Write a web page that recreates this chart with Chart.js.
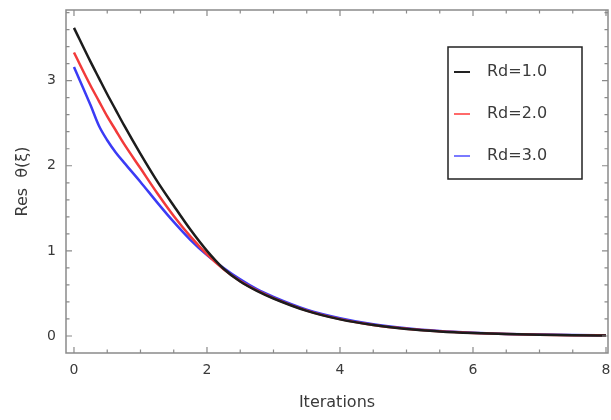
<!DOCTYPE html>
<html>
<head>
<meta charset="utf-8">
<script src="https://cdn.jsdelivr.net/npm/chart.js@4"></script>
<style>
  html, body { margin: 0; padding: 0; background: #fff; }
  #wrap { width: 611px; height: 420px; }
</style>
</head>
<body>
<div id="wrap"><canvas id="chart" width="611" height="420"></canvas></div>
<script>
// data
const iterations = [0, 0.25, 0.375, 0.5, 0.625, 0.75, 1, 1.25, 1.5, 1.75, 2, 2.25, 2.5, 2.75, 3, 3.5, 4, 4.5, 5, 5.5, 6, 6.5, 7, 7.5, 8];
const resRd1 = [3.62, 3.22, 3.03, 2.84, 2.66, 2.48, 2.14, 1.82, 1.53, 1.25, 1.0, 0.79, 0.64, 0.53, 0.44, 0.295, 0.195, 0.128, 0.083, 0.054, 0.035, 0.022, 0.014, 0.009, 0.006];
const resRd2 = [3.33, 2.94, 2.76, 2.58, 2.42, 2.26, 1.97, 1.68, 1.41, 1.17, 0.96, 0.785, 0.645, 0.535, 0.445, 0.298, 0.198, 0.13, 0.085, 0.055, 0.036, 0.023, 0.015, 0.01, 0.007];
const resRd3 = [3.16, 2.71, 2.47, 2.30, 2.16, 2.04, 1.81, 1.57, 1.34, 1.13, 0.95, 0.80, 0.665, 0.55, 0.46, 0.31, 0.21, 0.138, 0.09, 0.058, 0.038, 0.024, 0.016, 0.011, 0.008];
const seriesLabels = ['Rd=1.0', 'Rd=2.0', 'Rd=3.0'];
const xTicks = [0, 2, 4, 6, 8];
const yTicks = [0, 1, 2, 3];

const lineColors = ['#1c1c1c', '#f23a3a', '#3b3bf5'];
const legendColors = ['#222222', '#ff6a6a', '#7a7aff'];
const frameColor = '#8a8a8a';
const textColor = '#3a3a3a';
const fontFamily = '"DejaVu Sans", sans-serif';

function toPoints(ys) {
    return iterations.map((x, i) => ({ x: x, y: ys[i] }));
}

// frame with inward ticks on all four sides, Mathematica style
const frameTicks = {
    id: 'frameTicks',
    afterDraw(chart) {
        const ctx = chart.ctx;
        const a = chart.chartArea;
        const xs = chart.scales.x, ys = chart.scales.y;
        ctx.save();
        ctx.strokeStyle = frameColor;
        ctx.lineWidth = 1.5;
        ctx.strokeRect(a.left, a.top, a.right - a.left, a.bottom - a.top);
        ctx.lineWidth = 1.2;
        ctx.beginPath();
        for (let v = 0; v <= 8.001; v += 0.5) {
            const px = xs.getPixelForValue(v);
            const len = (Math.abs(v % 2) < 0.01) ? 6 : 3.5;
            ctx.moveTo(px, a.bottom); ctx.lineTo(px, a.bottom - len);
            ctx.moveTo(px, a.top); ctx.lineTo(px, a.top + len);
        }
        for (let v = 0; v <= 3.81; v += 0.2) {
            const py = ys.getPixelForValue(v);
            const major = Math.abs(v - Math.round(v)) < 0.01;
            const len = major ? 6 : 3.5;
            ctx.moveTo(a.left, py); ctx.lineTo(a.left + len, py);
            ctx.moveTo(a.right, py); ctx.lineTo(a.right - len, py);
        }
        ctx.stroke();

        // legend box
        const bx = 448, by = 47, bw = 134, bh = 132;
        ctx.strokeStyle = '#222';
        ctx.lineWidth = 1.5;
        ctx.strokeRect(bx, by, bw, bh);
        ctx.font = '16px ' + fontFamily;
        ctx.textBaseline = 'middle';
        ctx.fillStyle = textColor;
        chart.data.datasets.forEach((ds, i) => {
            const ly = 72 + i * 42;
            ctx.strokeStyle = legendColors[i];
            ctx.lineWidth = 2;
            ctx.beginPath();
            ctx.moveTo(454, ly); ctx.lineTo(470, ly);
            ctx.stroke();
            ctx.fillText(ds.label, 487, ly);
        });
        ctx.restore();
    }
};

const ctx = document.getElementById('chart').getContext('2d');
new Chart(ctx, {
    type: 'line',
    data: {
        datasets: [resRd1, resRd2, resRd3].map((ys, i) => ({
            label: seriesLabels[i],
            data: toPoints(ys),
            borderColor: lineColors[i],
            borderWidth: 2.5,
            pointRadius: 0,
            fill: false,
            cubicInterpolationMode: 'monotone'
        }))
    },
    options: {
        responsive: false,
        animation: false,
        layout: { padding: { top: 10, right: 3, left: 0, bottom: 0 } },
        plugins: {
            legend: { display: false },
            tooltip: { enabled: false }
        },
        scales: {
            x: {
                type: 'linear',
                min: -0.12,
                max: 8.03,
                afterBuildTicks: (s) => { s.ticks = xTicks.map(v => ({ value: v })); },
                afterFit: (s) => { s.height = 67; s.paddingLeft = 0; s.paddingRight = 0; },
                grid: { display: false, drawTicks: false },
                border: { display: false },
                ticks: { color: textColor, font: { family: fontFamily, size: 14 }, padding: 9 },
                title: {
                    display: true,
                    text: 'Iterations',
                    color: textColor,
                    font: { family: fontFamily, size: 16 },
                    padding: { top: 4, bottom: 8 }
                }
            },
            y: {
                type: 'linear',
                min: -0.2,
                max: 3.83,
                afterBuildTicks: (s) => { s.ticks = yTicks.map(v => ({ value: v })); },
                afterFit: (s) => { s.width = 66; s.paddingTop = 0; s.paddingBottom = 0; },
                grid: { display: false, drawTicks: false },
                border: { display: false },
                ticks: { color: textColor, font: { family: fontFamily, size: 14 }, padding: 10 },
                title: {
                    display: true,
                    text: 'Res  θ(ξ)',
                    color: textColor,
                    font: { family: fontFamily, size: 16 },
                    padding: { top: 13, bottom: 4 }
                }
            }
        }
    },
    plugins: [frameTicks]
});
</script>
</body>
</html>
